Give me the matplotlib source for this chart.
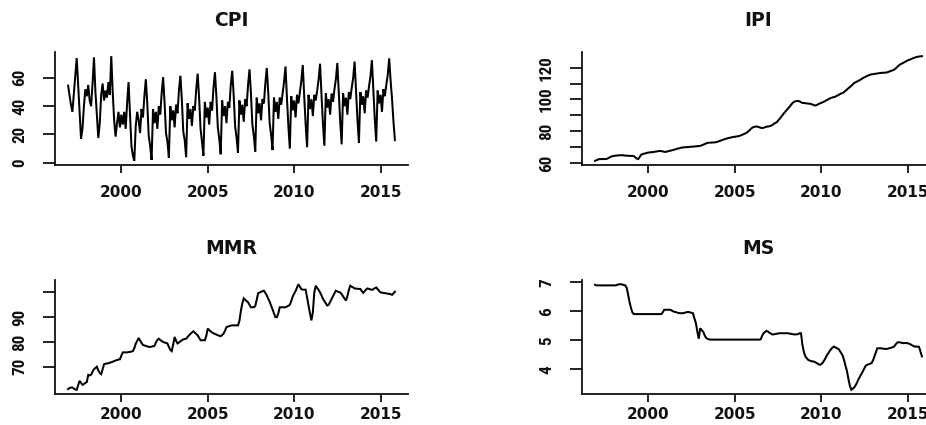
import numpy as np
import matplotlib
matplotlib.use("Agg")
import matplotlib.pyplot as plt
from matplotlib import font_manager as fm
from matplotlib.font_manager import FontProperties

# ---------------- data (monthly, Dec 1996 .. Nov 2015) ----------------
START_YEAR, START_MONTH = 1996, 12

cpi = ([54.5] +
       [48, 41, 36, 49, 62, 74, 55, 36, 17, 24, 40, 52] +          # 1997
       [47, 55, 44, 40, 56, 74.5, 50, 34, 17.5, 28, 48, 56] +      # 1998
       [44, 51, 46, 57, 48, 75.3, 50, 30, 18.5, 28, 36, 25] +      # 1999
       [34, 27, 36, 24, 42, 57, 35, 12, 5, 1.4, 26, 36] +          # 2000
       [30, 21, 38, 32, 47, 59, 42, 19, 12, 2, 38, 28] +           # 2001
       [36, 24, 40, 34, 49, 60.5, 43, 21, 15, 3.5, 40, 30] +       # 2002
       [37, 25, 41, 35, 51, 61.5, 45, 22, 16, 4, 42, 31] +         # 2003
       [38, 26, 40, 37, 52, 63, 46, 24, 15, 5, 43, 32] +           # 2004
       [39, 27, 43, 37, 53, 64, 47, 25, 17, 6, 44, 33] +           # 2005
       [40, 28, 43, 39, 55, 65, 48, 26, 18, 7, 44, 34] +           # 2006
       [41, 29, 45, 40, 55, 66, 49, 27, 19, 8, 46, 35] +           # 2007
       [42, 30, 45, 42, 56, 67, 50, 28, 20, 9, 46, 36] +           # 2008
       [43, 31, 46, 41, 49, 57, 68, 46, 26, 10, 47, 37] +          # 2009
       [44, 32, 48, 42, 50, 58, 69, 47, 27, 11, 48, 38] +          # 2010
       [45, 33, 48, 44, 51, 59, 70, 48, 28, 12, 49, 39] +          # 2011
       [45, 34, 49, 43, 52, 59, 70.5, 49, 29, 13, 49, 40] +        # 2012
       [46, 34, 50, 45, 53, 60, 71.5, 50, 30, 14, 50, 41] +        # 2013
       [47, 35, 51, 46, 54, 61, 72.5, 51, 31, 15, 51, 42] +        # 2014
       [48, 36, 52, 47, 55, 62, 73.7, 58, 45, 29, 16])             # 2015

ipi = ([61.4] +
       [61.8, 62.2, 62.5, 62.5, 62.5, 62.5, 62.5, 62.6, 63.0, 63.5, 64.0, 64.3] +
       [64.5, 64.6, 64.7, 64.8, 64.9, 64.9, 64.9, 64.8, 64.7, 64.6, 64.6, 64.5] +
       [64.5, 64.5, 64.3, 63.5, 62.8, 62.5, 63.8, 65.2, 65.6, 65.9, 66.1, 66.4] +
       [66.6, 66.7, 66.8, 66.9, 67.0, 67.2, 67.3, 67.5, 67.6, 67.5, 67.3, 67.1] +
       [67.0, 67.2, 67.5, 67.7, 67.9, 68.2, 68.4, 68.7, 69.0, 69.2, 69.4, 69.7] +
       [69.8, 69.9, 70.0, 70.0, 70.1, 70.2, 70.3, 70.3, 70.4, 70.5, 70.6, 70.7] +
       [70.8, 71.1, 71.5, 71.9, 72.3, 72.7, 72.8, 72.8, 72.9, 72.9, 73.0, 73.1] +
       [73.4, 73.7, 74.0, 74.4, 74.7, 75.0, 75.3, 75.5, 75.8, 76.0, 76.2, 76.4] +
       [76.5, 76.7, 76.8, 77.0, 77.3, 77.7, 78.1, 78.5, 78.9, 79.6, 80.4, 81.3] +
       [82.1, 82.6, 82.8, 83.0, 82.8, 82.5, 82.2, 82.0, 82.2, 82.5, 82.8, 83.0] +
       [83.1, 83.4, 83.9, 84.5, 85.2, 85.5, 86.5, 87.6, 88.8, 90.0, 91.1, 92.2] +
       [93.3, 94.3, 95.3, 96.5, 97.6, 98.4, 98.8, 99.0, 99.0, 98.8, 98.3, 97.8] +
       [97.8, 97.6, 97.5, 97.4, 97.3, 97.1, 96.8, 96.4, 96.2, 96.5, 97.0, 97.5] +
       [97.8, 98.2, 98.6, 99.1, 99.6, 100.1, 100.6, 101.0, 101.3, 101.5, 101.8, 102.3] +
       [102.8, 103.3, 103.8, 104.0, 104.7, 105.5, 106.3, 107.1, 107.8, 108.6, 109.5, 110.4] +
       [110.8, 111.3, 111.8, 112.2, 112.8, 113.4, 113.9, 114.3, 114.8, 115.2, 115.5, 115.8] +
       [115.9, 116.0, 116.2, 116.3, 116.5, 116.6, 116.7, 116.8, 116.8, 116.9, 117.1, 117.4] +
       [117.8, 118.1, 118.4, 118.9, 119.7, 120.6, 121.4, 122.1, 122.5, 123.0, 123.5, 124.0] +
       [124.5, 124.9, 125.2, 125.6, 126.0, 126.3, 126.6, 126.8, 127.0, 127.1, 127.2])

mmr = ([61.0] +
       [61.4, 61.6, 61.6, 61.2, 60.8, 60.7, 62.5, 64.3, 63.5, 62.7, 63.0, 63.5] +
       [63.8, 66.7, 66.5, 66.8, 68.0, 69.0, 69.5, 70.0, 68.5, 67.5, 67.0, 69.0] +
       [71.0, 71.2, 71.3, 71.4, 71.6, 71.8, 72.0, 72.3, 72.5, 72.7, 72.9, 73.0] +
       [74.5, 75.8, 75.8, 75.8, 75.8, 75.9, 76.0, 76.1, 76.3, 77.5, 79.3, 80.5] +
       [81.6, 80.6, 79.6, 78.8, 78.6, 78.4, 78.2, 78.0, 78.0, 78.1, 78.3, 78.4] +
       [79.8, 80.8, 81.3, 80.8, 80.4, 80.0, 79.8, 79.6, 79.4, 78.0, 76.8, 76.3] +
       [79.0, 82.0, 80.5, 79.4, 79.8, 80.2, 80.7, 81.0, 81.2, 81.3, 82.0, 82.7] +
       [83.3, 83.8, 84.3, 83.8, 83.2, 82.7, 81.7, 80.7, 80.7, 80.7, 80.7, 82.5] +
       [85.4, 84.8, 84.3, 83.8, 83.5, 83.2, 83.0, 82.7, 82.5, 82.3, 82.8, 83.4] +
       [84.5, 86.0, 86.2, 86.4, 86.6, 86.7, 86.7, 86.7, 86.7, 86.7, 88.5, 92.5] +
       [95.5, 97.6, 97.0, 96.5, 96.0, 95.0, 94.0, 94.0, 94.0, 94.5, 97.0, 99.7] +
       [99.9, 100.2, 100.5, 100.7, 99.8, 98.8, 97.5, 96.2, 94.7, 93.2, 91.6, 90.0] +
       [90.0, 91.5, 94.0, 94.0, 94.0, 94.0, 94.0, 94.3, 94.6, 95.0, 96.5, 98.3] +
       [99.5, 100.5, 102.0, 103.3, 102.3, 101.3, 101.1, 101.1, 101.1, 98.0, 94.7, 91.5] +
       [88.7, 92.0, 100.0, 102.7, 101.8, 101.0, 100.0, 98.8, 97.4, 96.5, 95.6, 94.7] +
       [95.0, 96.2, 97.4, 98.5, 99.6, 100.7, 100.4, 100.1, 100.0, 99.3, 98.4, 97.5] +
       [96.7, 98.5, 101.0, 102.7, 102.3, 102.0, 101.6, 101.5, 101.5, 101.4, 101.4, 100.5] +
       [99.8, 100.5, 101.2, 101.6, 101.4, 101.2, 101.0, 101.3, 101.7, 102.0, 101.3, 100.6] +
       [100.0, 99.9, 99.8, 99.7, 99.6, 99.5, 99.4, 99.3, 99.0, 99.6, 100.3])

ms = ([6.91] +
      [6.89] * 12 +
      [6.89, 6.89, 6.90, 6.92, 6.93, 6.93, 6.92, 6.90, 6.89, 6.80, 6.56, 6.30] +
      [6.10, 5.95, 5.90, 5.90, 5.90, 5.90, 5.90, 5.90, 5.90, 5.90, 5.90, 5.90] +
      [5.90, 5.90, 5.90, 5.90, 5.90, 5.90, 5.90, 5.90, 5.90, 5.90, 5.96, 6.05] +
      [6.05, 6.05, 6.05, 6.05, 6.03, 6.00, 5.98, 5.97, 5.95, 5.94, 5.93, 5.93] +
      [5.93, 5.94, 5.96, 5.97, 5.97, 5.96, 5.94, 5.93, 5.75, 5.59, 5.30, 5.05] +
      [5.41, 5.35, 5.30, 5.18, 5.09, 5.05, 5.03, 5.02, 5.02, 5.02, 5.02, 5.02] +
      [5.02] * 12 +
      [5.02] * 12 +
      [5.02, 5.02, 5.02, 5.02, 5.02, 5.02, 5.03, 5.15, 5.24, 5.28, 5.32, 5.30] +
      [5.26, 5.23, 5.20, 5.20, 5.21, 5.22, 5.23, 5.24, 5.24, 5.24, 5.24, 5.24] +
      [5.24, 5.24, 5.23, 5.22, 5.21, 5.20, 5.20, 5.20, 5.21, 5.24, 5.24, 4.84] +
      [4.60, 4.44, 4.38, 4.32, 4.30, 4.28, 4.27, 4.26, 4.24, 4.21, 4.18, 4.15] +
      [4.17, 4.22, 4.29, 4.38, 4.48, 4.55, 4.63, 4.70, 4.75, 4.78, 4.75, 4.72] +
      [4.70, 4.63, 4.55, 4.47, 4.30, 4.10, 3.92, 3.65, 3.42, 3.29, 3.33, 3.37] +
      [3.45, 3.55, 3.66, 3.75, 3.84, 3.93, 4.03, 4.12, 4.15, 4.17, 4.19, 4.21] +
      [4.30, 4.44, 4.58, 4.72, 4.72, 4.72, 4.72, 4.71, 4.70, 4.70, 4.70, 4.72] +
      [4.73, 4.75, 4.76, 4.80, 4.87, 4.92, 4.93, 4.92, 4.91, 4.90, 4.90, 4.90] +
      [4.90, 4.88, 4.86, 4.83, 4.80, 4.78, 4.78, 4.78, 4.77, 4.60, 4.44])

titles = ["CPI", "IPI", "MMR", "MS"]
year_ticks = [2000, 2005, 2010, 2015]
year_labels = ["2000", "2005", "2010", "2015"]
cpi_yticks, cpi_ylabels = [0, 20, 40, 60], ["0", "20", "40", "60"]
ipi_yticks = [60, 70, 80, 90, 100, 110, 120]
ipi_ylabels = ["60", "", "80", "", "100", "", "120"]
mmr_yticks, mmr_ylabels = [70, 80, 90, 100], ["70", "80", "90", ""]
ms_yticks, ms_ylabels = [4, 5, 6, 7], ["4", "5", "6", "7"]

# ---------------- fonts ----------------
def pick_narrow_font(bold):
    prefs = ["Liberation Sans Narrow", "Roboto Condensed", "Open Sans Condensed",
             "Noto Sans", "Liberation Sans", "DejaVu Sans", "Roboto", "Open Sans"]
    wanted = (700, "bold") if bold else (400, "normal", "regular")
    cands = [f for f in fm.fontManager.ttflist
             if f.stretch in ("condensed", "semi-condensed", "extra-condensed",
                              "ultra-condensed")
             and f.style == "normal" and f.weight in wanted]
    for p in prefs:
        for f in cands:
            if f.name == p:
                return f.fname
    return None


narrow_file = pick_narrow_font(True) or pick_narrow_font(False)
if narrow_file:
    ylab_fp = FontProperties(fname=narrow_file, size=12.3)
else:
    ylab_fp = FontProperties(family="DejaVu Sans", size=10)

# ---------------- figure ----------------
W, H = 926, 425
fig = plt.figure(figsize=(W / 100, H / 100), dpi=100)
fig.patch.set_facecolor("white")


def rect(x0, y0, x1, y1):
    return [x0 / W, 1 - y1 / H, (x1 - x0) / W, (y1 - y0) / H]


def r_range(lo, hi):
    r = hi - lo
    return lo - 0.04 * r, hi + 0.04 * r


panels = [
    (cpi, titles[0], cpi_yticks, cpi_ylabels, rect(55, 52, 408, 165), "top"),
    (ipi, titles[1], ipi_yticks, ipi_ylabels, rect(582, 52, 935, 165), "top"),
    (mmr, titles[2], mmr_yticks, mmr_ylabels, rect(55, 280, 408, 394), "bottom"),
    (ms, titles[3], ms_yticks, ms_ylabels, rect(582, 280, 935, 394), "bottom"),
]

ink = "#111111"
for series, title, yt, yl, r, row in panels:
    y = np.asarray(series, dtype=float)
    t = START_YEAR + (START_MONTH - 1) / 12 + np.arange(len(y)) / 12
    ax = fig.add_axes(r)
    ax.plot(t, y, color="black", lw=1.45, solid_joinstyle="miter")
    ax.set_xlim(*r_range(t.min(), t.max()))
    ax.set_ylim(*r_range(y.min(), y.max()))
    for s in ("top", "right"):
        ax.spines[s].set_visible(False)
    for s in ("left", "bottom"):
        ax.spines[s].set_linewidth(1.3)
        ax.spines[s].set_color(ink)
    ax.set_xticks(year_ticks)
    ax.set_xticklabels(year_labels, fontsize=11, fontweight="bold",
                       family="DejaVu Sans", color=ink)
    ax.set_yticks(yt)
    ax.set_yticklabels(yl, rotation=90, va="center", fontproperties=ylab_fp,
                       color=ink)
    xpad = 8.6 if row == "top" else 3.6
    ax.tick_params(axis="x", direction="out", length=5.8, width=1.3,
                   pad=xpad, colors=ink)
    ax.tick_params(axis="y", direction="out", length=8.6, width=1.3,
                   pad=11.5, colors=ink)
    ax.set_title(title, fontsize=13.5, fontweight="bold", family="DejaVu Sans",
                 color=ink, pad=19)

fig.savefig("out.png", dpi=100, facecolor="white")
